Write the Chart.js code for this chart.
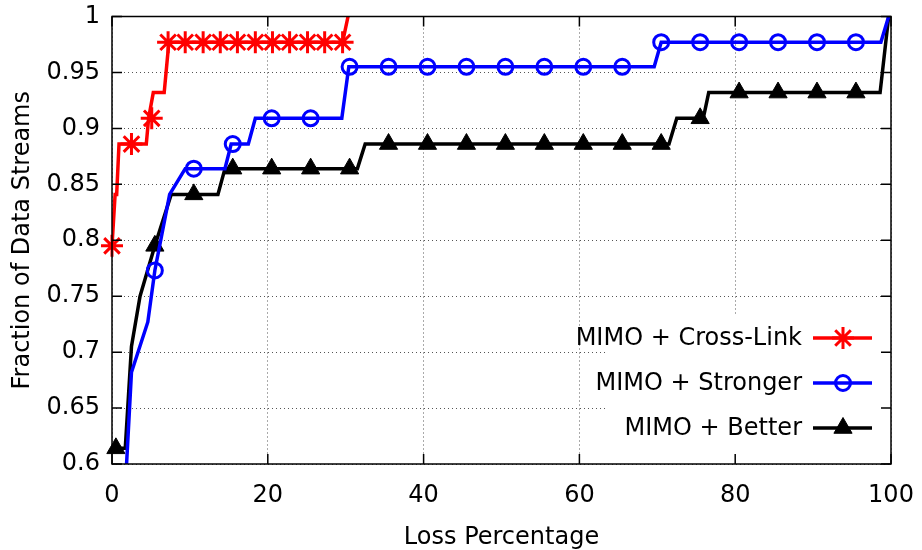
<!DOCTYPE html>
<html>
<head>
<meta charset="utf-8">
<script src="https://cdn.jsdelivr.net/npm/chart.js@4.4.1/dist/chart.umd.min.js"></script>
<style>
  html, body { margin: 0; padding: 0; background: #fff; }
</style>
</head>
<body>
<canvas id="cdf" width="922" height="550"></canvas>
<script>
// CDF of loss percentage per data stream (44 streams)

// MIMO + Cross-Link
const crossLinkX = [0, 0.4, 0.6, 0.9, 4.4, 4.7, 5.3, 6.7, 7.3, 29.6, 30.3];
const crossLinkY = [0.795, 0.841, 0.841, 0.886, 0.886, 0.909, 0.932, 0.932, 0.977, 0.977, 1.0];
const crossLinkMarkX = [0, 2.5, 5.1, 7.2, 9.4, 11.7, 13.9, 16.1, 18.4, 20.6, 22.8, 25.1, 27.3, 29.6];
const crossLinkMarkY = [0.795, 0.886, 0.909, 0.977, 0.977, 0.977, 0.977, 0.977, 0.977, 0.977, 0.977, 0.977, 0.977, 0.977];

// MIMO + Stronger
const strongerX = [1.8, 2.5, 4.6, 5.5, 7.4, 9.4, 14.5, 15.3, 17.5, 18.4, 29.5, 30.4, 69.6, 70.5, 98.7, 99.7];
const strongerY = [0.591, 0.682, 0.727, 0.773, 0.841, 0.864, 0.864, 0.886, 0.886, 0.909, 0.909, 0.955, 0.955, 0.977, 0.977, 1.0];
const strongerMarkX = [5.5, 10.5, 15.5, 20.5, 25.5, 30.5, 35.5, 40.5, 45.5, 50.5, 55.5, 60.5, 65.5, 70.5, 75.5, 80.5, 85.5, 90.5, 95.5];
const strongerMarkY = [0.773, 0.864, 0.886, 0.909, 0.909, 0.955, 0.955, 0.955, 0.955, 0.955, 0.955, 0.955, 0.955, 0.977, 0.977, 0.977, 0.977, 0.977, 0.977];

// MIMO + Better
const betterX = [0.5, 1.7, 2.5, 3.6, 5.5, 7.6, 13.6, 14.5, 31.5, 32.5, 71.5, 72.5, 75.9, 76.6, 98.6, 99.7];
const betterY = [0.614, 0.614, 0.705, 0.75, 0.795, 0.841, 0.841, 0.864, 0.864, 0.886, 0.886, 0.909, 0.909, 0.932, 0.932, 1.0];
const betterMarkX = [0.5, 5.5, 10.5, 15.5, 20.5, 25.5, 30.5, 35.5, 40.5, 45.5, 50.5, 55.5, 60.5, 65.5, 70.5, 75.5, 80.5, 85.5, 90.5, 95.5];
const betterMarkY = [0.614, 0.795, 0.841, 0.864, 0.864, 0.864, 0.864, 0.886, 0.886, 0.886, 0.886, 0.886, 0.886, 0.886, 0.886, 0.909, 0.932, 0.932, 0.932, 0.932];

const xTicks = [0, 20, 40, 60, 80, 100];
const yTicks = [0.6, 0.65, 0.7, 0.75, 0.8, 0.85, 0.9, 0.95, 1];
const yTickLabels = ["0.6", "0.65", "0.7", "0.75", "0.8", "0.85", "0.9", "0.95", "1"];

const FONT = { family: "'DejaVu Sans', Verdana, sans-serif", size: 24 };

const toPoints = (xs, ys) => xs.map((x, i) => ({ x, y: ys[i] }));

const series = [
  { label: "MIMO + Cross-Link", color: "#ff0000", x: crossLinkX, y: crossLinkY, mx: crossLinkMarkX, my: crossLinkMarkY,
    point: { pointStyle: "star", radius: 11, borderWidth: 3, fill: "rgba(0,0,0,0)" } },
  { label: "MIMO + Stronger", color: "#0000ff", x: strongerX, y: strongerY, mx: strongerMarkX, my: strongerMarkY,
    point: { pointStyle: "circle", radius: 7.5, borderWidth: 3, fill: "rgba(0,0,0,0)" } },
  { label: "MIMO + Better", color: "#000000", x: betterX, y: betterY, mx: betterMarkX, my: betterMarkY,
    point: { pointStyle: "triangle", radius: 10.5, borderWidth: 1, fill: "#000000" } }
];

const datasets = [];
series.forEach(s => {
  datasets.push({
    label: s.label,
    data: toPoints(s.x, s.y),
    borderColor: s.color,
    borderWidth: 3.5,
    pointRadius: 0,
    tension: 0,
    fill: false
  });
  datasets.push({
    label: s.label + " marks",
    data: toPoints(s.mx, s.my),
    showLine: false,
    clip: false,
    pointStyle: s.point.pointStyle,
    pointRadius: s.point.radius,
    pointBorderWidth: s.point.borderWidth,
    pointBorderColor: s.color,
    pointBackgroundColor: s.point.fill
  });
});

// gnuplot-like frame, inward ticks and key
const gnuFrame = {
  id: "gnuFrame",
  afterDatasetsDraw(chart) {
    const { ctx, chartArea: a } = chart;
    ctx.save();
    // opaque key area
    ctx.fillStyle = "#ffffff";
    ctx.fillRect(605, 316, a.right - 605, a.bottom - 316);

    ctx.font = FONT.size + "px " + FONT.family;
    ctx.textAlign = "right";
    ctx.textBaseline = "middle";
    const rows = [338, 383, 428];
    series.forEach((s, i) => {
      const y = rows[i];
      ctx.fillStyle = "#000";
      ctx.fillText(s.label, 802, y + 1);
      ctx.strokeStyle = s.color;
      ctx.lineWidth = 3.5;
      ctx.beginPath();
      ctx.moveTo(813, y);
      ctx.lineTo(872, y);
      ctx.stroke();
      ctx.fillStyle = s.point.fill;
      ctx.lineWidth = s.point.borderWidth;
      Chart.helpers.drawPoint(ctx, {
        pointStyle: s.point.pointStyle,
        radius: s.point.radius,
        borderWidth: s.point.borderWidth,
        rotation: 0
      }, 843, y);
    });
    ctx.restore();
  },
  afterDraw(chart) {
    const { ctx, chartArea: a, scales } = chart;
    ctx.save();
    ctx.strokeStyle = "#000";
    ctx.lineWidth = 1.5;
    const tl = 10;
    ctx.beginPath();
    xTicks.forEach(v => {
      const px = scales.x.getPixelForValue(v);
      ctx.moveTo(px, a.bottom); ctx.lineTo(px, a.bottom - tl);
      ctx.moveTo(px, a.top); ctx.lineTo(px, a.top + tl);
    });
    yTicks.forEach(v => {
      const py = scales.y.getPixelForValue(v);
      ctx.moveTo(a.left, py); ctx.lineTo(a.left + tl, py);
      ctx.moveTo(a.right, py); ctx.lineTo(a.right - tl, py);
    });
    ctx.stroke();
    ctx.strokeRect(a.left, a.top, a.right - a.left, a.bottom - a.top);
    ctx.restore();
  }
};

new Chart(document.getElementById("cdf"), {
  type: "line",
  data: { datasets },
  options: {
    responsive: false,
    animation: false,
    events: [],
    layout: { padding: { left: 0, right: 31, top: 16.5, bottom: 0 } },
    plugins: {
      legend: { display: false },
      tooltip: { enabled: false }
    },
    scales: {
      x: {
        type: "linear",
        min: 0,
        max: 100,
        afterBuildTicks: s => { s.ticks = xTicks.map(v => ({ value: v })); },
        afterFit: s => { s.height = 86; s.paddingLeft = 0; s.paddingRight = 0; },
        ticks: { font: FONT, color: "#000", padding: 17, maxRotation: 0, autoSkip: false },
        grid: { color: "#555", lineWidth: 1, drawTicks: false },
        border: { display: false, dash: [1, 3] },
        title: { display: true, text: "Loss Percentage", font: FONT, color: "#000", padding: { top: 0, bottom: -2 } }
      },
      y: {
        type: "linear",
        min: 0.6,
        max: 1,
        afterBuildTicks: s => { s.ticks = yTicks.map(v => ({ value: v })); },
        afterFit: s => { s.width = 112; s.paddingTop = 0; s.paddingBottom = 0; },
        ticks: {
          font: FONT,
          color: "#000",
          padding: 12,
          autoSkip: false,
          callback: (v, i) => yTickLabels[i]
        },
        grid: { color: "#555", lineWidth: 1, drawTicks: false },
        border: { display: false, dash: [1, 3] },
        title: { display: true, text: "Fraction of Data Streams", font: FONT, color: "#000", padding: { top: 8, bottom: 0 } }
      }
    }
  },
  plugins: [gnuFrame]
});
</script>
</body>
</html>
